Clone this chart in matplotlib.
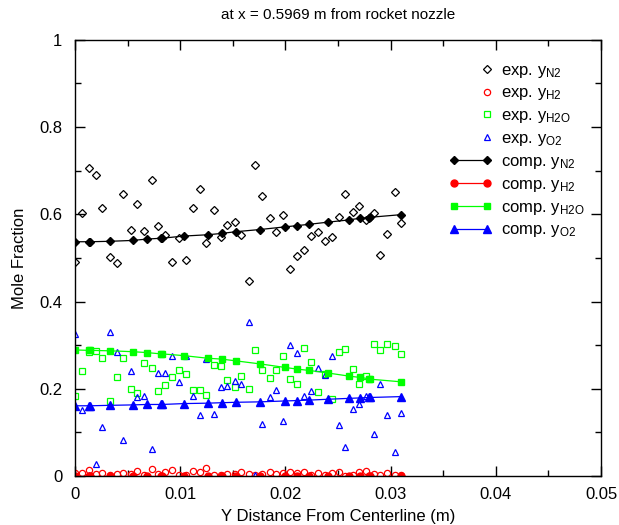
import numpy as np
import matplotlib
matplotlib.use('Agg')
import matplotlib.pyplot as plt
from matplotlib.lines import Line2D
from matplotlib.legend_handler import HandlerLine2D
from matplotlib.ticker import MultipleLocator, FormatStrFormatter

plt.rcParams['font.family'] = ['Liberation Sans', 'DejaVu Sans']
plt.rcParams['mathtext.fontset'] = 'custom'
plt.rcParams['mathtext.rm'] = 'Liberation Sans'
plt.rcParams['mathtext.it'] = 'Liberation Sans'

# measured profiles (radial distance in m)
x_exp = [0.0000, 0.0007, 0.0013, 0.0020, 0.0026, 0.0033, 0.0040, 0.0046,
         0.0053, 0.0059, 0.0066, 0.0073, 0.0079, 0.0086, 0.0092, 0.0099,
         0.0106, 0.0112, 0.0119, 0.0125, 0.0132, 0.0139, 0.0145, 0.0152,
         0.0158, 0.0165, 0.0171, 0.0178, 0.0185, 0.0191, 0.0198, 0.0204,
         0.0211, 0.0218, 0.0224, 0.0231, 0.0238, 0.0244, 0.0251, 0.0257,
         0.0264, 0.0270, 0.0277, 0.0284, 0.0290, 0.0297, 0.0304, 0.0310]
n2_exp = [0.490, 0.603, 0.707, 0.689, 0.615, 0.502, 0.489, 0.647, 0.563, 0.623,
          0.561, 0.679, 0.573, 0.552, 0.491, 0.545, 0.495, 0.614, 0.659, 0.534,
          0.609, 0.548, 0.576, 0.582, 0.553, 0.447, 0.712, 0.641, 0.591, 0.560,
          0.598, 0.475, 0.505, 0.519, 0.550, 0.560, 0.539, 0.548, 0.594, 0.647,
          0.605, 0.619, 0.586, 0.602, 0.506, 0.555, 0.651, 0.581]
h2_exp = [0.006, 0.008, 0.014, 0.005, 0.008, 0.003, 0.005, 0.007, 0.004, 0.011,
          0.003, 0.017, 0.005, 0.010, 0.014, 0.003, 0.003, 0.011, 0.009, 0.019,
          0.002, 0.003, 0.005, 0.005, 0.010, 0.005, 0.002, 0.004, 0.010, 0.005,
          0.008, 0.010, 0.008, 0.010, 0.003, 0.006, 0.003, 0.007, 0.010, 0.001,
          0.002, 0.010, 0.011, 0.005, 0.003, 0.007, 0.003, 0.002]
h2o_exp = [0.183, 0.241, 0.284, 0.286, 0.270, 0.173, 0.227, 0.271, 0.200, 0.190,
           0.258, 0.248, 0.196, 0.209, 0.228, 0.244, 0.234, 0.198, 0.197, 0.185,
           0.254, 0.252, 0.219, 0.203, 0.230, 0.200, 0.288, 0.244, 0.225, 0.244,
           0.276, 0.222, 0.212, 0.294, 0.261, 0.192, 0.234, 0.177, 0.285, 0.290,
           0.245, 0.212, 0.229, 0.303, 0.288, 0.302, 0.297, 0.279]
o2_exp = [0.326, 0.151, 0.002, 0.028, 0.113, 0.330, 0.285, 0.083, 0.240, 0.181,
          0.183, 0.062, 0.236, 0.235, 0.274, 0.216, 0.276, 0.183, 0.140, 0.268,
          0.142, 0.205, 0.206, 0.218, 0.212, 0.354, 0.002, 0.119, 0.180, 0.197,
          0.127, 0.300, 0.283, 0.183, 0.194, 0.248, 0.231, 0.274, 0.116, 0.067,
          0.154, 0.166, 0.183, 0.097, 0.210, 0.141, 0.055, 0.144]

# computed profiles
x_comp = [0.0000, 0.00133, 0.00145, 0.00333, 0.00548, 0.00681, 0.00815, 0.00827,
          0.01033, 0.01261, 0.01394, 0.01528, 0.01759, 0.01993, 0.02113, 0.02228,
          0.02408, 0.02605, 0.02709, 0.02792, 0.02804, 0.03096]
n2_comp = [0.537, 0.537, 0.537, 0.538, 0.540, 0.543, 0.545, 0.545, 0.550, 0.553,
           0.556, 0.560, 0.565, 0.571, 0.574, 0.577, 0.582, 0.587, 0.591, 0.592,
           0.593, 0.599]
h2_comp = [0.001, 0.001, 0.001, 0.001, 0.001, 0.001, 0.001, 0.001, 0.001, 0.001,
           0.001, 0.001, 0.001, 0.001, 0.001, 0.001, 0.001, 0.001, 0.001, 0.001,
           0.001, 0.001]
h2o_comp = [0.289, 0.288, 0.288, 0.287, 0.285, 0.283, 0.280, 0.280, 0.276, 0.270,
            0.268, 0.264, 0.257, 0.249, 0.245, 0.242, 0.236, 0.229, 0.226, 0.223,
            0.222, 0.216]
o2_comp = [0.161, 0.161, 0.161, 0.162, 0.163, 0.164, 0.164, 0.164, 0.166, 0.167,
           0.168, 0.169, 0.170, 0.172, 0.173, 0.174, 0.176, 0.178, 0.179, 0.180,
           0.180, 0.182]

species = ['N2', 'H2', 'H2O', 'O2']
colors = ['black', '#ff0000', '#00ff00', '#0000ff']
markers = ['D', 'o', 's', '^']
exp_sizes = [3.6, 4.5, 4.3, 4.8]
comp_sizes = [4.2, 5.0, 4.8, 5.2]
exp_data = [n2_exp, h2_exp, h2o_exp, o2_exp]
comp_data = [n2_comp, h2_comp, h2o_comp, o2_comp]


def right_marker_only(legline, orig):
    # legend sample for the scatter series: one marker at the right end
    legline.update_from(orig)
    legline.set_markevery([1])


fig = plt.figure(figsize=(6.19, 5.25), dpi=100)
ax = fig.add_axes([0.121, 0.0933, 0.850, 0.831])

handles = []
labels = []
hmap = {}
for sp, c, m, s, y in zip(species, colors, markers, exp_sizes, exp_data):
    ax.plot(x_exp, y, ls='none', marker=m, ms=s, mfc='none', mec=c, mew=0.9)
    h = Line2D([], [], ls='none', marker=m, ms=s, mfc='none', mec=c, mew=0.9)
    hmap[h] = HandlerLine2D(update_func=right_marker_only)
    handles.append(h)
    labels.append(r'exp. y$_{\mathrm{%s}}$' % sp)
for sp, c, m, s, y in zip(species, colors, markers, comp_sizes, comp_data):
    l, = ax.plot(x_comp, y, color=c, lw=0.9, marker=m, ms=s, mfc=c, mec=c)
    handles.append(l)
    labels.append(r'comp. y$_{\mathrm{%s}}$' % sp)

ax.set_xlim(0, 0.05)
ax.set_ylim(0, 1)
ax.xaxis.set_major_locator(MultipleLocator(0.01))
ax.xaxis.set_minor_locator(MultipleLocator(0.005))
ax.yaxis.set_major_locator(MultipleLocator(0.2))
ax.yaxis.set_minor_locator(MultipleLocator(0.1))
ax.xaxis.set_major_formatter(FormatStrFormatter('%g'))
ax.yaxis.set_major_formatter(FormatStrFormatter('%g'))
ax.tick_params(which='both', direction='in', top=True, right=True,
               labelsize=12)
ax.tick_params(axis='x', which='major', pad=8)
ax.tick_params(axis='y', which='major', pad=9)
ax.tick_params(which='major', length=7, width=1)
ax.tick_params(which='minor', length=4, width=1)
for sp in ax.spines.values():
    sp.set_linewidth(1)

ax.set_xlabel('Y Distance From Centerline (m)', fontsize=12, labelpad=5)
ax.set_ylabel('Mole Fraction', fontsize=12, labelpad=9)
ax.set_title('at x = 0.5969 m from rocket nozzle', fontsize=11, pad=15)

ax.legend(handles=handles, labels=labels, handler_map=hmap,
          loc='upper right', bbox_to_anchor=(1.0, 0.986), frameon=False,
          numpoints=2, handlelength=2.6, handletextpad=0.5, labelspacing=0.35,
          fontsize=12, borderaxespad=0.6)

plt.savefig('out.png', dpi=100)
